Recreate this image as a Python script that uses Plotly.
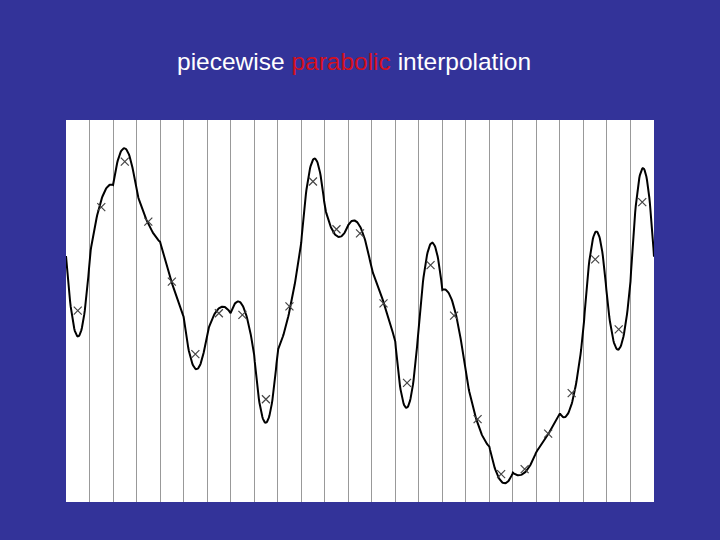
import numpy as np
import plotly.graph_objects as go

# 25 cells of equal width; values on a 0-100 scale
cells = list(range(25))
cell_avg = [50.1, 77.2, 89.1, 73.4, 57.7, 38.7, 49.4, 49.0, 26.9, 51.2,
            83.9, 71.4, 70.3, 52.0, 31.2, 62.0, 48.8, 21.7, 7.3, 8.6,
            17.9, 28.5, 63.5, 45.2, 78.5]
edge_left = [64.4, 63.9, 83.0, 81.2, 68.1, 48.5, 44.2, 49.4, 38.5, 39.8,
             67.8, 77.3, 72.5, 60.7, 42.0, 46.3, 55.5, 33.3, 14.5, 7.7,
             13.2, 23.2, 45.0, 53.7, 57.7]
edge_right = [62.8, 83.0, 81.2, 68.1, 48.5, 44.2, 49.4, 38.5, 39.8, 67.8,
              77.3, 72.5, 60.7, 42.0, 46.3, 55.5, 33.3, 14.5, 7.7, 13.2,
              23.2, 45.0, 53.7, 57.7, 64.2]

# piecewise parabola in each cell (edge values + cell mean)
xs, ys = [], []
t = np.linspace(0, 1, 41)
for i in cells:
    aL, aR, a = edge_left[i], edge_right[i], cell_avg[i]
    da = aR - aL
    a6 = 6 * (a - 0.5 * (aL + aR))
    xs.extend((i + t).tolist())
    ys.extend((aL + t * (da + a6 * (1 - t))).tolist())

centers = [i + 0.5 for i in cells]

fig = go.Figure()
fig.add_trace(go.Scatter(x=xs, y=ys, mode="lines",
                         line=dict(color="black", width=2), hoverinfo="skip"))
fig.add_trace(go.Scatter(x=centers, y=cell_avg, mode="markers",
                         marker=dict(symbol="x-thin", size=8,
                                     line=dict(color="#444444", width=1.2))))

fig.update_layout(
    width=720, height=540,
    paper_bgcolor="#333399", plot_bgcolor="white",
    margin=dict(l=66, r=66, t=120, b=38),
    showlegend=False,
    xaxis=dict(range=[0, 25], tickmode="linear", tick0=0, dtick=1,
               showgrid=True, gridcolor="#999999", gridwidth=1,
               showticklabels=False, zeroline=False, showline=False, ticks=""),
    yaxis=dict(range=[0, 100], showgrid=False, showticklabels=False,
               zeroline=False, showline=False, ticks=""),
    annotations=[dict(
        text="piecewise <span style='color:#d41020'>parabolic</span> interpolation",
        xref="paper", yref="paper", x=0.489, y=1.154,
        xanchor="center", yanchor="middle", showarrow=False,
        font=dict(family="Liberation Sans, Arial", size=24.5, color="white"))],
)

fig.write_html(
    "out.html",
    config={"displayModeBar": False},
    post_script="document.body.style.margin='0';document.body.style.background='#333399';",
)
